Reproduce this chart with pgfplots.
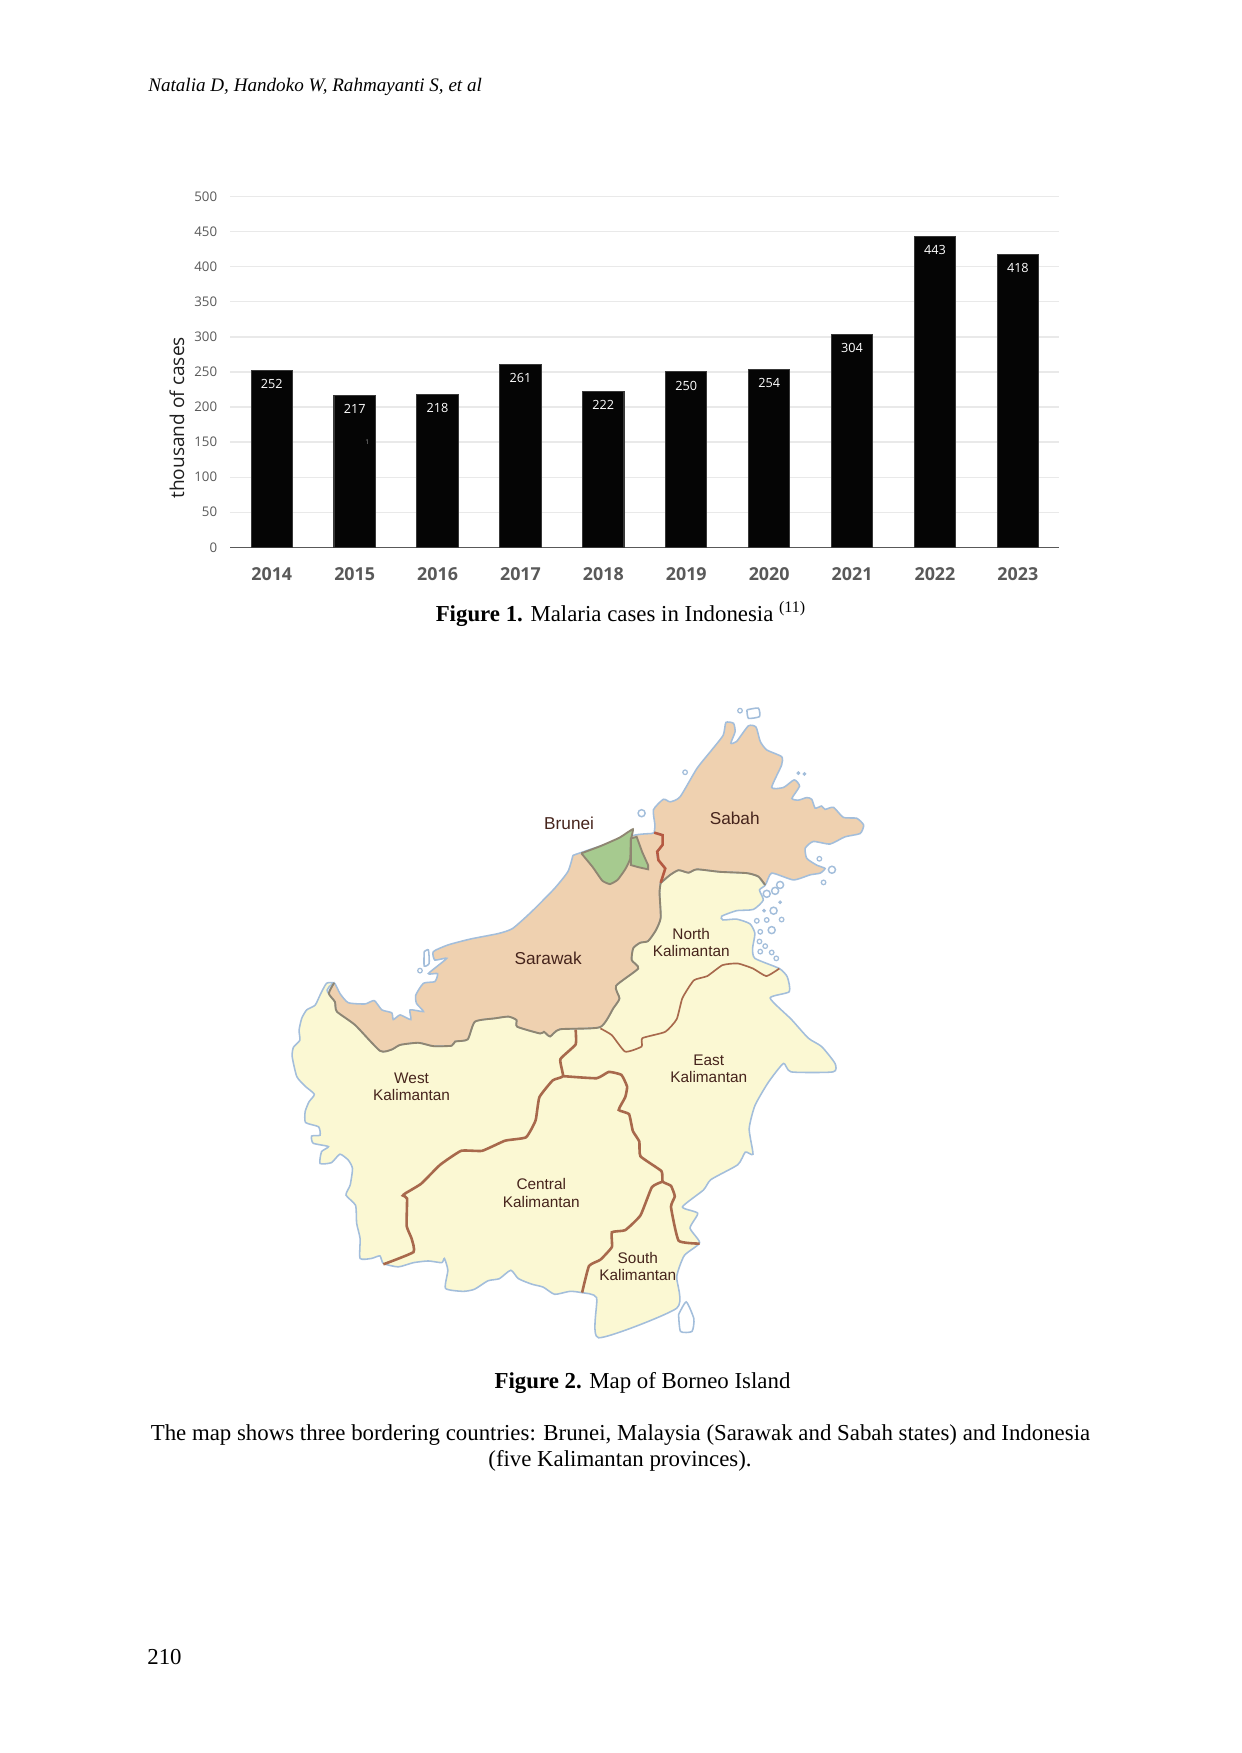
\documentclass[border=0pt]{standalone}
\usepackage{fontspec}
\setmainfont{Liberation Serif}
\newfontfamily\chartfont{Open Sans}
\newfontfamily\mapfont{Liberation Sans}
\usepackage{pgfplots}
\pgfplotsset{compat=1.18}

\definecolor{ticktext}{HTML}{595959}
\definecolor{gridc}{HTML}{E9E9E9}
\definecolor{land}{HTML}{FBF8D3}
\definecolor{malay}{HTML}{EFD1B0}
\definecolor{brun}{HTML}{A6CA8F}
\definecolor{coast}{HTML}{A3BEDB}
\definecolor{border}{HTML}{A8694C}
\definecolor{greyb}{HTML}{8F8672}
\definecolor{maptext}{HTML}{46241C}

% one reference pixel
\def\px{0.4816}

\pgfplotsset{
  coastline/.style={draw=coast,line width=0.75pt,smooth,tension=0.35},
  thickborder/.style={draw=border,line width=1.25pt,smooth,tension=0.25},
}

\begin{document}
\begin{tikzpicture}
% the page, in reference pixels
\begin{axis}[
  at={(0,0)}, anchor=south west, scale only axis,
  width=1241*\px pt, height=1753*\px pt,
  xmin=0, xmax=1241, ymin=0, ymax=1753, y dir=reverse,
  hide axis, clip=false,
]
\path[fill=white] (axis cs:0,0) rectangle (axis cs:1241,1753);
\node[anchor=west,font=\fontsize{9.2}{12}\selectfont\itshape] at (axis cs:141,87) {Natalia D, Handoko W, Rahmayanti S, et al};
\node[font=\fontsize{11}{13}\selectfont] at (axis cs:621,614) {\textbf{Figure 1.} Malaria cases in Indonesia \textsuperscript{(11)}};
\node[font=\fontsize{11}{13}\selectfont] at (axis cs:642.5,1383) {\textbf{Figure 2.} Map of Borneo Island};
\node[font=\fontsize{11}{13}\selectfont] at (axis cs:620.5,1435) {The map shows three bordering countries: Brunei, Malaysia (Sarawak and Sabah states) and Indonesia};
\node[font=\fontsize{11}{13}\selectfont] at (axis cs:620,1461) {(five Kalimantan provinces).};
\node[anchor=west,font=\fontsize{11}{13}\selectfont] at (axis cs:140,1657) {210};
\end{axis}

% Figure 1
\begin{axis}[
  at={(230.3*\px pt,1205.7*\px pt)}, anchor=south west, scale only axis,
  width=829*\px pt, height=350.6*\px pt,
  xmin=-0.5, xmax=9.5, ymin=0, ymax=500,
  axis x line=bottom, axis y line=left,
  x axis line style={draw=ticktext,line width=0.6pt,-},
  y axis line style={draw=none,-},
  major tick length=0pt,
  ymajorgrids, grid style={gridc,line width=0.6pt},
  ytick={0,50,...,500},
  xtick={0,...,9},
  xticklabels={2014,2015,2016,2017,2018,2019,2020,2021,2022,2023},
  /pgf/number format/assume math mode=true,
  yticklabel style={font=\chartfont\fontsize{6.4}{7}\selectfont,text=ticktext,xshift=-2.8pt},
  xticklabel style={font=\chartfont\bfseries\fontsize{8.6}{10}\selectfont,text=ticktext,yshift=-6pt},
  ylabel={thousand of cases},
  ylabel style={font=\chartfont\fontsize{9.2}{11}\selectfont,text=black!88,at={(axis description cs:-0.0645,0.369)},anchor=center},
  ybar, bar width=41.3*\px pt,
  clip=false,
  nodes near coords,
  nodes near coords align={below},
  every node near coord/.append style={font=\chartfont\fontsize{6.1}{7}\selectfont,text=white,yshift=-0.7pt},
]
\addplot[fill=black!98,draw=black!78,line width=0.5pt] coordinates {
  (0,252) (1,217) (2,218) (3,261) (4,222) (5,250) (6,254) (7,304) (8,443) (9,418)};
\node[font=\chartfont\fontsize{3.2}{4}\selectfont,text=black!40] at (axis cs:1.153,150) {1};
\end{axis}

% Figure 2, traced on a 1573 x 1564 grid over 600 x 660 reference pixels
\begin{axis}[
  at={(280*\px pt,403*\px pt)}, anchor=south west, scale only axis,
  width=600*\px pt, height=660*\px pt,
  xmin=0, xmax=1573, ymin=0, ymax=1564, y dir=reverse,
  hide axis, clip=false,
]
% Kalimantan and the rest of the land
\addplot[coastline,fill=land] coordinates {
 (142,694) (122,695) (105,723) (92,747) (70,758) (57,778) (50,806) (52,830) (35,847) (32,869) (44,916) (66,939) (90,958) (76,976) (66,999) (67,1025) (101,1035) (105,1055) (83,1057) (87,1074) (127,1082) (109,1094) (105,1122) (135,1120) (157,1100) (179,1114) (190,1134) (184,1173) (173,1197) (198,1221) (201,1264) (210,1300) (210,1347) (240,1347) (262,1341) (271,1359) (310,1367) (350,1357) (389,1353) (424,1357) (431,1347) (440,1375) (434,1418) (480,1425) (510,1420) (545,1400) (575,1395) (605,1375) (625,1395) (660,1408) (690,1415) (720,1432) (760,1425) (790,1428) (830,1440) (835,1535) (1040,1465) (1040,1390) (1060,1340) (1100,1310) (1075,1275) (1095,1240) (1055,1225) (1110,1185) (1130,1160) (1200,1125) (1220,1095) (1240,1100) (1230,1040) (1245,985) (1280,930) (1320,885) (1340,905) (1450,905) (1455,885) (1420,845) (1385,825) (1340,780) (1285,730) (1335,715) (1330,680) (1309,660) (1245,636) (1239,612) (1245,577) (1232,554) (1197,543) (1161,545) (1158,536) (1197,523) (1241,520) (1267,498) (1257,474) (1272,462) (1254,442) (1100,400) (950,430) (900,600) (600,700) (300,800) (128,719) (142,694)};
% Sarawak
\addplot[coastline,fill=malay] coordinates {
 (768,392) (790,385) (925,345) (975,340) (981,338) (1003,344) (1003,367) (989,383) (992,403) (1010,423) (998,457) (995,480) (998,540) (985,570) (965,595) (944,599) (926,612) (922,640) (939,660) (881,701) (890,731) (874,754) (839,799) (734,804) (708,821) (692,810) (682,814) (622,798) (620,782) (599,774) (564,778) (511,786) (492,828) (459,833) (450,843) (402,844) (363,836) (315,841) (293,852) (262,855) (197,794) (149,762) (144,739) (128,719) (142,694) (157,719) (179,741) (223,744) (247,736) (267,758) (293,765) (297,781) (315,770) (343,781) (341,758) (376,762) (358,743) (356,723) (376,695) (406,691) (413,672) (389,672) (437,636) (406,640) (402,620) (441,604) (500,590) (573,577) (610,565) (660,525) (720,470) (755,430) (768,392)};
% Sabah
\addplot[coastline,fill=malay] coordinates {
 (981,338) (983,320) (979,284) (1005,259) (1023,265) (1049,253) (1093,186) (1132,142) (1162,107) (1169,77) (1189,79) (1193,99) (1182,126) (1197,122) (1228,85) (1248,88) (1259,122) (1276,142) (1315,158) (1315,178) (1289,231) (1320,231) (1348,213) (1362,228) (1342,257) (1359,261) (1381,255) (1394,259) (1403,280) (1420,275) (1429,283) (1451,278) (1477,302) (1512,304) (1530,320) (1521,340) (1481,348) (1442,365) (1398,359) (1377,375) (1381,399) (1407,415) (1429,423) (1416,434) (1390,438) (1346,450) (1289,434) (1272,462) (1254,442) (1224,434) (1154,431) (1093,425) (1071,433) (1045,427) (1023,438) (998,457) (1010,423) (992,403) (989,383) (1003,367) (1003,344) (981,338)};
% grey land borders of Malaysia
\addplot[draw=greyb,line width=0.9pt,smooth,tension=0.35] coordinates {
 (998,457) (995,480) (998,540) (985,570) (965,595) (944,599) (926,612) (922,640) (939,660) (881,701) (890,731) (874,754) (839,799) (734,804) (708,821) (692,810) (682,814) (622,798) (620,782) (599,774) (564,778) (511,786) (492,828) (459,833) (450,843) (402,844) (363,836) (315,841) (293,852) (262,855) (197,794) (149,762) (144,739) (128,719) (142,694)};
\addplot[draw=greyb,line width=0.9pt,smooth,tension=0.35] coordinates {
 (998,457) (1023,438) (1045,427) (1071,433) (1093,425) (1154,431) (1224,434) (1254,442) (1272,462)};
% Brunei, in two parts
\addplot[fill=brun,draw=greyb,line width=0.9pt,smooth,tension=0.25] coordinates {
 (790,387) (840,370) (890,350) (925,330) (920,355) (918,400) (905,425) (885,450) (865,460) (845,452) (820,420) (790,387)};
\addplot[fill=brun,draw=greyb,line width=0.9pt] coordinates {
 (920,352) (935,348) (950,385) (965,415) (965,425) (940,420) (920,415)} -- cycle;
% Sabah-Sarawak border
\addplot[draw=border!85!red,line width=1.25pt] coordinates {
 (981,338) (1003,344) (1003,367) (989,383) (992,403) (1010,423) (998,457)};
% provincial borders
\addplot[draw=border,line width=0.8pt,smooth,tension=0.3] coordinates {
 (1309,660) (1275,678) (1240,660) (1200,648) (1160,652) (1120,678) (1085,688) (1055,730) (1040,780) (1010,810) (950,825) (948,845) (905,857) (870,818) (840,802)};
\addplot[thickborder] coordinates {
 (775,805) (775,840) (735,875) (742,915) (715,925) (680,965) (670,1020) (645,1060) (590,1068) (530,1092) (475,1092) (420,1125) (370,1170) (330,1192) (322,1198) (333,1205) (332,1270) (345,1300) (350,1332) (271,1361)};
\addplot[thickborder] coordinates {
 (742,915) (830,920) (862,905) (895,912) (910,940) (905,965) (888,995) (915,1005) (925,1045) (942,1070) (945,1105) (1000,1140) (1003,1165) (1025,1175) (1035,1200) (1025,1225) (1045,1305) (1100,1312)};
\addplot[thickborder] coordinates {
 (1003,1165) (975,1178) (945,1245) (905,1280) (870,1285) (870,1320) (840,1350) (810,1365) (792,1428)};
% islands
\addplot[coastline,fill=white] coordinates {
 (1224,47) (1254,43) (1257,63) (1228,67) (1224,47)};
\addplot[coastline,fill=white] coordinates {
 (1045,1480) (1065,1450) (1085,1490) (1080,1520) (1050,1520) (1045,1480)};
\addplot[coastline,fill=white] coordinates {
 (378,620) (389,616) (391,648) (378,654) (378,620)};
\addplot[only marks,mark=o,mark size=1.7pt,mark options={draw=coast,line width=0.7pt}] coordinates {
 (948,292) (1447,426) (1311,462) (1298,476) (1294,523) (1289,569) (1276,483)};
\addplot[only marks,mark=o,mark size=1.1pt,mark options={draw=coast,line width=0.6pt}] coordinates {
 (1062,195) (1206,49) (1414,400) (1425,456) (367,665)
 (1315,544) (1276,545) (1250,547) (1259,573) (1272,607) (1257,596) (1259,620) (1289,622) (1301,636)};
\addplot[only marks,mark=*,mark size=0.7pt,mark options={draw=coast,fill=coast}] coordinates {
 (1359,197) (1375,199) (1311,503) (1269,523)};

\node[font=\mapfont\fontsize{8.3}{10}\selectfont,text=maptext] at (axis cs:758,315) {Brunei};
\node[font=\mapfont\fontsize{8.3}{10}\selectfont,text=maptext] at (axis cs:1192,305) {Sabah};
\node[font=\mapfont\fontsize{8.3}{10}\selectfont,text=maptext] at (axis cs:703,635) {Sarawak};
\node[font=\mapfont\fontsize{7.4}{8.3}\selectfont,text=maptext,align=center] at (axis cs:1078,598) {North\\Kalimantan};
\node[font=\mapfont\fontsize{7.4}{8.3}\selectfont,text=maptext,align=center] at (axis cs:1124,897) {East\\Kalimantan};
\node[font=\mapfont\fontsize{7.4}{8.3}\selectfont,text=maptext,align=center] at (axis cs:345,941) {West\\Kalimantan};
\node[font=\mapfont\fontsize{7.4}{8.3}\selectfont,text=maptext,align=center] at (axis cs:685,1192) {Central\\Kalimantan};
\node[font=\mapfont\fontsize{7.4}{8.3}\selectfont,text=maptext,align=center] at (axis cs:938,1366) {South\\Kalimantan};
\end{axis}
\end{tikzpicture}
\end{document}
